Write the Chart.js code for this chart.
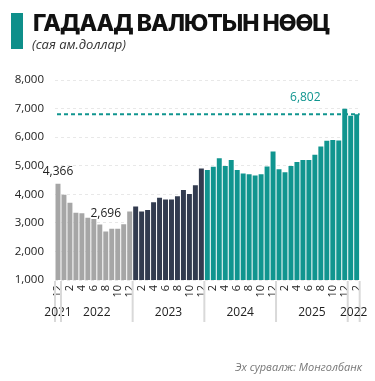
<!DOCTYPE html>
<html>
<head>
<meta charset="utf-8">
<script src="https://cdn.jsdelivr.net/npm/chart.js@4"></script>
<style>
	body { margin: 0; background: #fff; }
	#wrap { position: relative; width: 375px; height: 381px; overflow: hidden; }
	#barra { position: absolute; left: 11px; top: 13px; width: 12px; height: 36px; background: #0e8f8a; }
	#titulo { position: absolute; left: 33px; top: 9px; font: 800 23px Inter, sans-serif; letter-spacing: -1px; color: #111; white-space: nowrap; }
	#subtitulo { position: absolute; left: 32px; top: 35px; font: italic 13px "Open Sans", sans-serif; color: #333; white-space: nowrap; }
	#fuente { position: absolute; right: 13px; top: 359px; font: italic 11px "Open Sans", sans-serif; color: #777; white-space: nowrap; }
	canvas { position: absolute; left: 0; top: 0; }
</style>
</head>
<body>
<div id="wrap">
	<canvas id="grafico" width="375" height="381"></canvas>
	<div id="barra"></div>
	<div id="titulo">ГАДААД ВАЛЮТЫН НӨӨЦ</div>
	<div id="subtitulo">(сая ам.доллар)</div>
	<div id="fuente">Эх сурвалж: Монголбанк</div>
</div>
<script>
// meses por año (eje x)
var meses2021 = ["12"];
var meses2022 = ["1","2","3","4","5","6","7","8","9","10","11","12"];
var meses2023 = ["1","2","3","4","5","6","7","8","9","10","11","12"];
var meses2024 = ["1","2","3","4","5","6","7","8","9","10","11","12"];
var meses2025 = ["1","2","3","4","5","6","7","8","9","10","11","12"];
var meses2026 = ["1","2"];

// reservas, millones USD
var valores2021 = [4366];
var valores2022 = [3980, 3700, 3350, 3340, 3180, 3135, 2940, 2696, 2790, 2790, 2950, 3400];
var valores2023 = [3570, 3400, 3450, 3720, 3880, 3820, 3820, 3930, 4150, 4010, 4320, 4900];
var valores2024 = [4850, 4960, 5260, 4990, 5200, 4850, 4730, 4700, 4660, 4700, 4970, 5500];
var valores2025 = [4880, 4770, 4990, 5130, 5200, 5200, 5380, 5670, 5870, 5900, 5880, 6990];
var valores2026 = [6750, 6802];

var etiquetasAnio = ["2021", "2022", "2023", "2024", "2025", "2022"];
var ticksY = [1000, 2000, 3000, 4000, 5000, 6000, 7000, 8000];

var lineaReferencia = 6802;
var puntosMarcados = [0, 8];

var grupos = [meses2021, meses2022, meses2023, meses2024, meses2025, meses2026];
var etiquetas = [].concat(meses2021, meses2022, meses2023, meses2024, meses2025, meses2026);
var valores = [].concat(valores2021, valores2022, valores2023, valores2024, valores2025, valores2026);

var gris = "#a6a6a6";
var azul = "#323b4f";
var verde = "#10958f";

var colores = [];
for(i=0; i<valores.length; i++)
{
	if(i <= 12)
		colores.push(gris);
	else if(i <= 24)
		colores.push(azul);
	else
		colores.push(verde);
}

function formato(n)
{
	return n.toLocaleString("en-US");
}

// separadores y años debajo de los meses
var separadores = {
	id: "separadores",
	afterDraw: function(chart) {
		var ctx = chart.ctx;
		var x = chart.scales.x;
		var base = chart.chartArea.bottom;
		var inicio = 0;
		ctx.save();
		ctx.strokeStyle = "#d9d9d9";
		ctx.lineWidth = 2;
		ctx.fillStyle = "#222";
		ctx.font = "12px 'Open Sans', sans-serif";
		ctx.textAlign = "center";
		ctx.textBaseline = "middle";
		for(g=0; g<grupos.length; g++)
		{
			var fin = inicio + grupos[g].length - 1;
			var izq = x.getPixelForValue(inicio - 0.5);
			var der = x.getPixelForValue(fin + 0.5);
			ctx.beginPath();
			ctx.moveTo(izq, base + 1);
			ctx.lineTo(izq, base + 42);
			ctx.stroke();
			if(g == grupos.length - 1)
			{
				ctx.beginPath();
				ctx.moveTo(der, base + 1);
				ctx.lineTo(der, base + 42);
				ctx.stroke();
			}
			ctx.fillText(etiquetasAnio[g], (izq + der) / 2, base + 33);
			inicio = fin + 1;
		}
		ctx.restore();
	}
};

// línea punteada del último dato y etiquetas de valores
var marcas = {
	id: "marcas",
	afterDatasetsDraw: function(chart) {
		var ctx = chart.ctx;
		var x = chart.scales.x;
		var y = chart.scales.y;
		var area = chart.chartArea;
		var yl = y.getPixelForValue(lineaReferencia);
		ctx.save();
		ctx.strokeStyle = verde;
		ctx.lineWidth = 2;
		ctx.setLineDash([4, 3]);
		ctx.beginPath();
		ctx.moveTo(area.left + 2, yl);
		ctx.lineTo(area.right, yl);
		ctx.stroke();
		ctx.setLineDash([]);

		ctx.font = "12px 'Open Sans', sans-serif";
		ctx.textAlign = "center";
		ctx.textBaseline = "middle";
		ctx.fillStyle = verde;
		ctx.fillText(formato(lineaReferencia), x.getPixelForValue(41.4), yl - 17);

		ctx.fillStyle = "#222";
		var separacion = [12, 18];
		for(i=0; i<puntosMarcados.length; i++)
		{
			var k = puntosMarcados[i];
			ctx.fillText(formato(valores[k]), x.getPixelForValue(k), y.getPixelForValue(valores[k]) - separacion[i]);
		}
		ctx.restore();
	}
};

Chart.defaults.font.family = "'Open Sans', sans-serif";
Chart.defaults.color = "#222";

var myChart = new Chart(document.getElementById("grafico"), {
	type: "bar",
	data: {
		labels: etiquetas,
		datasets: [{
			data: valores,
			backgroundColor: colores,
			borderWidth: 0,
			barPercentage: 0.83,
			categoryPercentage: 1
		}]
	},
	options: {
		responsive: false,
		animation: false,
		layout: { padding: { top: 80, right: 12, left: 0, bottom: 0 } },
		plugins: {
			legend: { display: false },
			tooltip: { enabled: false }
		},
		scales: {
			x: {
				grid: { display: false, drawTicks: false },
				border: { display: false },
				ticks: {
					autoSkip: false,
					minRotation: 90,
					maxRotation: 90,
					padding: 5,
					font: { size: 11 },
					callback: function(v, i) {
						var m = etiquetas[i];
						return (parseInt(m) % 2 == 0) ? m : "";
					}
				},
				afterFit: function(s) { s.height = 101; }
			},
			y: {
				min: 1000,
				max: 8000,
				afterBuildTicks: function(s) {
					s.ticks = ticksY.map(function(v) { return { value: v }; });
				},
				grid: { color: "#e8e8e8", drawTicks: false, lineWidth: 1 },
				border: { display: false, dash: [3, 3] },
				ticks: {
					padding: 11,
					font: { size: 11.5 },
					callback: function(v) { return formato(v); }
				},
				afterFit: function(s) { s.width = 55; }
			}
		}
	},
	plugins: [separadores, marcas]
});
</script>
</body>
</html>
